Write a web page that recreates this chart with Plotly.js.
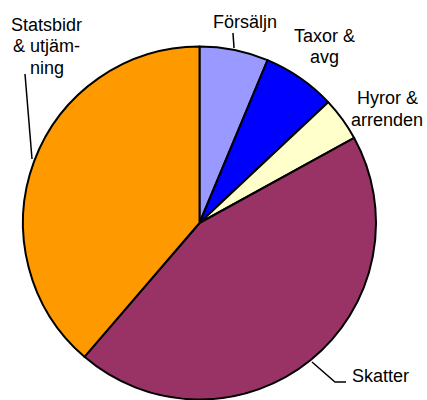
<!DOCTYPE html>
<html>
<head>
<meta charset="utf-8">
<script src="https://cdn.plot.ly/plotly-3.0.1.min.js"></script>
<style>html,body{margin:0;padding:0;background:#fff;}#chart{width:427px;height:400px;}</style>
</head>
<body>
<div id="chart"></div>
<script>
// Data (percent shares)
const labels = ["Försäljn", "Taxor & avg", "Hyror & arrenden", "Skatter", "Statsbidr & utjämning"];
const values = [6.3, 6.7, 4.0, 44.3, 38.7];
const colors = ["#9999FF", "#0000FF", "#FFFFCC", "#993366", "#FF9900"];
// Label text lines as shown on the chart
const labelLines = [["Försäljn"], ["Taxor &", "avg"], ["Hyror &", "arrenden"], ["Skatter"], ["Statsbidr", "& utjäm-", "ning"]];

const W = 427, H = 400;
const cx = 199.5, cy = 223, R = 176.5;
// label block anchor (pixel centre of first line) and line spacing
const labelPos = [[245, 22], [324, 35.5], [387, 98.5], [380, 375.5], [46.5, 25]];
const lineGap = 21.5;

const annotations = [];
labelLines.forEach((lines, i) => {
  lines.forEach((t, j) => {
    annotations.push({
      x: labelPos[i][0] / W, y: 1 - (labelPos[i][1] + j * lineGap) / H,
      xref: 'paper', yref: 'paper', text: t, showarrow: false,
      xanchor: 'center', yanchor: 'middle',
      font: {family: 'Liberation Sans, Arial, sans-serif', size: 18, color: '#000'}
    });
  });
});

// leader lines (pixel polylines)
const leaders = [
  [[233, 33], [234, 48]],
  [[312, 362], [335, 382], [346, 382]],
  [[25, 74], [32, 159]]
];
const shapes = leaders.map(pts => ({
  type: 'path', xref: 'paper', yref: 'paper',
  path: pts.map((p, k) => (k ? 'L' : 'M') + (p[0] / W) + ',' + (1 - p[1] / H)).join(' '),
  line: {color: '#000', width: 1.5}
}));

const trace = {
  type: 'pie', labels: labels, values: values, sort: false,
  direction: 'clockwise', rotation: 0,
  marker: {colors: colors, line: {color: '#000', width: 2}},
  textinfo: 'none', hoverinfo: 'label+percent', showlegend: false,
  domain: {x: [(cx - R) / W, (cx + R) / W], y: [1 - (cy + R) / H, 1 - (cy - R) / H]}
};

Plotly.newPlot('chart', [trace], {
  width: W, height: H, margin: {l: 0, r: 0, t: 0, b: 0},
  paper_bgcolor: '#fff', plot_bgcolor: '#fff',
  annotations: annotations, shapes: shapes, showlegend: false
}, {displayModeBar: false, staticPlot: true});
</script>
</body>
</html>
